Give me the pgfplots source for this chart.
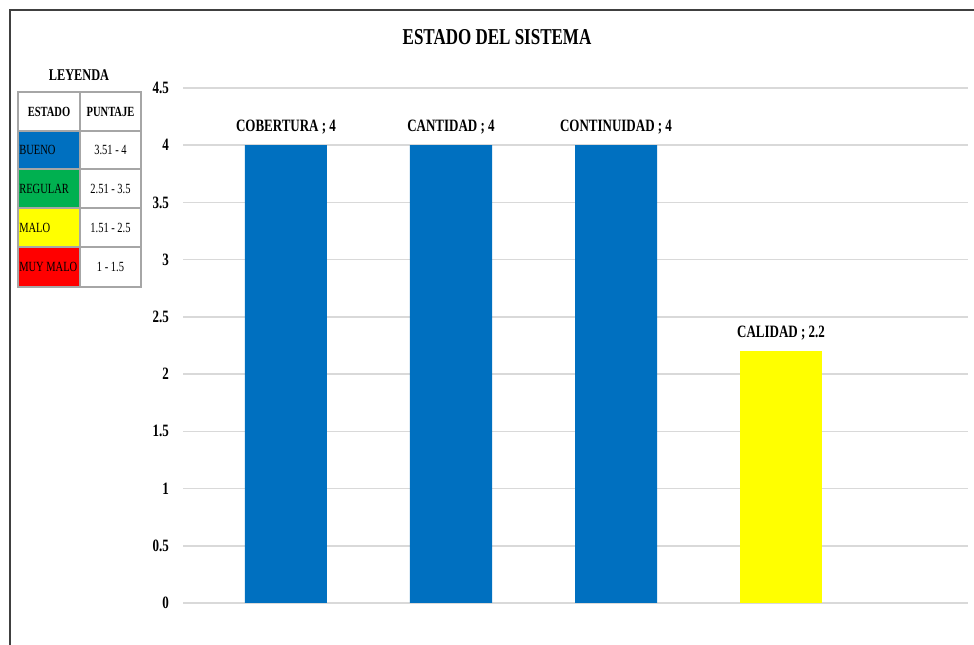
\documentclass[border=0pt]{standalone}
\usepackage{fontspec}
\setmainfont{Liberation Serif}[FakeStretch=0.75]
\usepackage{pgfplots}
\pgfplotsset{compat=1.18}
\definecolor{xlblue}{RGB}{0,112,192}
\definecolor{xlgreen}{RGB}{0,176,80}
\definecolor{xlyellow}{RGB}{255,255,0}
\definecolor{xlred}{RGB}{255,0,0}
\definecolor{gridgray}{RGB}{217,217,217}
\newcommand\semi{;}
\begin{document}
\begin{tikzpicture}[x=0.75pt,y=0.75pt]
\path[use as bounding box] (0,0) rectangle (974,645);
\draw[line width=1.4pt, black!75] (10,0) -- (10,635) -- (974,635);
\node[font=\bfseries\fontsize{17}{17}\selectfont] at (497,608) {ESTADO DEL SISTEMA};
\begin{axis}[
  at={(137.25pt,31.5pt)}, anchor=south west,
  scale only axis, width=588.75pt, height=386.25pt,
  xmin=-0.624, xmax=4.133, ymin=0, ymax=4.5,
  ytick={0,0.5,1,1.5,2,2.5,3,3.5,4,4.5},
  xtick=\empty,
  axis line style={draw=none},
  major tick length=0pt,
  ymajorgrids, grid style={line width=1.1pt, color=gridgray},
  /pgf/number format/assume math mode=true,
  yticklabel style={font=\bfseries\fontsize{13}{13}\selectfont, xshift=-7pt},
  ybar, bar width=61.5pt, bar shift=0pt,
  point meta=explicit symbolic,
  nodes near coords,
  every node near coord/.append style={font=\bfseries\fontsize{13}{13}\selectfont, black, inner sep=0pt, yshift=8pt},
  clip=false,
]
\addplot[draw=none, fill=xlblue] coordinates {(0,4) [COBERTURA \semi{} 4] (1,4) [CANTIDAD \semi{} 4] (2,4) [CONTINUIDAD \semi{} 4]};
\addplot[draw=none, fill=xlyellow] coordinates {(3,2.2) [CALIDAD \semi{} 2.2]};
\end{axis}
% legend table
\node[font=\bfseries\fontsize{12.3}{12.3}\selectfont] at (79,570) {LEYENDA};
\fill[xlblue] (18,476) rectangle (80,514);
\fill[xlgreen] (18,437) rectangle (80,476);
\fill[xlyellow] (18,398) rectangle (80,437);
\fill[xlred] (18,358) rectangle (80,398);
\draw[gray!70, line width=1.2pt] (18,358) rectangle (141,553);
\foreach \yy in {514,476,437,398} \draw[gray!70, line width=1.2pt] (18,\yy) -- (141,\yy);
\draw[gray!70, line width=1.2pt] (80,358) -- (80,553);
\node[font=\bfseries\fontsize{10.5}{10.5}\selectfont] at (49,533.5) {ESTADO};
\node[font=\bfseries\fontsize{10.5}{10.5}\selectfont] at (110.5,533.5) {PUNTAJE};
\begin{scope}[every node/.style={font=\fontsize{10.5}{10.5}\selectfont}]
\node[anchor=west, inner sep=0pt] at (19,495) {BUENO};
\node[anchor=west, inner sep=0pt] at (19,456.5) {REGULAR};
\node[anchor=west, inner sep=0pt] at (19,417.5) {MALO};
\node[anchor=west, inner sep=0pt] at (19,378) {MUY MALO};
\node at (110.5,495) {3.51 - 4};
\node at (110.5,456.5) {2.51 - 3.5};
\node at (110.5,417.5) {1.51 - 2.5};
\node at (110.5,378) {1 - 1.5};
\end{scope}
\end{tikzpicture}
\end{document}
